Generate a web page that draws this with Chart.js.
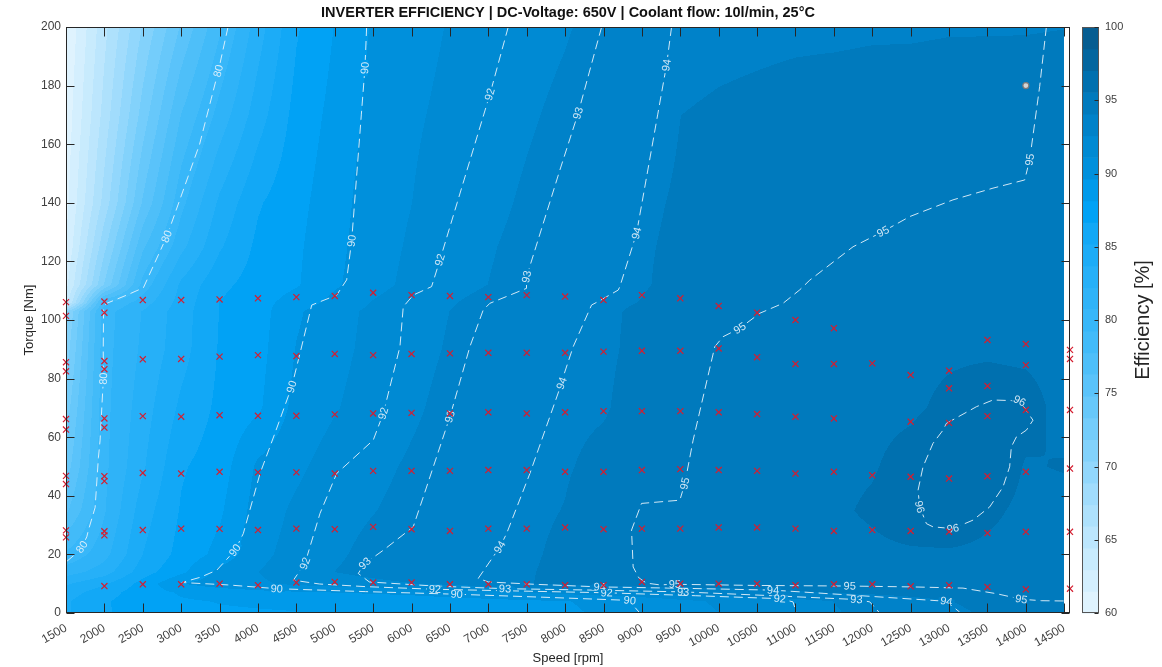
<!DOCTYPE html>
<html>
<head>
<meta charset="utf-8">
<title>Inverter efficiency map</title>
<script src="https://cdn.jsdelivr.net/npm/chart.js@4.4.1/dist/chart.umd.min.js"></script>
<style>
  html, body { margin: 0; padding: 0; background: #fff; }
  #wrap { position: relative; width: 1162px; height: 667px; }
  #main { position: absolute; left: 0; top: 0; }
  #cbar { position: absolute; left: 1062px; top: 0; }
</style>
</head>
<body>
<div id="wrap">
  <canvas id="main" width="1162" height="667"></canvas>
  <canvas id="cbar" width="100" height="667"></canvas>
</div>
<script>
// efficiency field [%] on the speed x torque grid (rows = torque)
const speedGrid = [1500, 2000, 2500, 3000, 3500, 4000, 4500, 5000, 5500, 6000, 6500, 7000, 7500,
  8000, 8500, 9000, 9500, 10000, 10500, 11000, 11500, 12000, 12500, 13000, 13500, 14000, 14500];
const torqueGrid = [0, 4, 7, 10, 14, 20, 35, 50, 70, 90, 103, 106, 112, 125, 140, 170, 200];
const effGrid = [
  [85, 86.5, 87.3, 87.8, 88.0, 88.05, 88.1, 88.3, 88.5, 88.7, 88.9, 89.1, 89.3, 89.5, 89.75, 90.05, 90.55, 91.1, 91.6, 92.1, 92.5, 92.9, 93.35, 93.85, 94.2, 94.5, 94.75],
  [85, 86.5, 87.5, 88.0, 88.2, 88.3, 88.4, 88.55, 88.7, 88.85, 89.0, 89.2, 89.4, 89.6, 89.8, 90.1, 90.75, 91.3, 91.8, 92.1, 92.6, 93.05, 93.55, 94.05, 94.35, 94.65, 94.95],
  [84.5, 86, 87.5, 88.3, 88.8, 89.2, 89.45, 89.65, 89.8, 90.0, 90.35, 90.7, 91.1, 91.45, 91.85, 92.3, 92.8, 93.2, 93.55, 93.9, 94.15, 94.35, 94.55, 94.8, 95.0, 95.1, 95.1],
  [83.5, 85, 87.2, 89.6, 90.4, 90.9, 91.4, 91.85, 92.2, 92.55, 92.9, 93.4, 94.0, 94.4, 94.7, 94.95, 94.95, 94.95, 94.95, 94.95, 94.95, 94.95, 94.95, 94.9, 94.85, 94.8, 94.8],
  [81.5, 83, 86, 87.8, 90.1, 91.1, 91.95, 92.6, 93.05, 93.35, 93.6, 93.8, 94.0, 94.3, 94.65, 95.0, 95.05, 95.1, 95.1, 95.1, 95.1, 95.15, 95.2, 95.2, 95.2, 95.1, 95.1],
  [79.5, 81.7, 85.2, 87.2, 88.6, 90.7, 91.7, 92.4, 92.95, 93.3, 93.55, 93.8, 93.95, 94.25, 94.75, 95.05, 95.15, 95.2, 95.25, 95.3, 95.35, 95.4, 95.45, 95.45, 95.4, 95.35, 95.3],
  [76, 80.6, 84.5, 86.8, 87.9, 90.3, 91.4, 92.15, 92.55, 92.95, 93.3, 93.6, 93.9, 94.1, 94.6, 95.0, 95.1, 95.2, 95.25, 95.3, 95.45, 95.65, 96.0, 96.2, 95.7, 95.4, 95.3],
  [74, 80.4, 83.5, 86.5, 87.4, 89.9, 90.8, 91.8, 92.3, 92.75, 93.15, 93.55, 93.85, 94.0, 94.3, 94.6, 94.95, 95.1, 95.2, 95.3, 95.4, 95.5, 95.8, 96.2, 96.1, 95.5, 95.6],
  [72.5, 80.3, 83, 85.5, 87.0, 87.9, 90.1, 91.0, 91.8, 92.4, 92.95, 93.35, 93.7, 93.9, 94.0, 94.4, 94.85, 95.1, 95.2, 95.3, 95.35, 95.4, 95.45, 95.7, 95.95, 95.85, 95.3],
  [71, 80.2, 82.5, 84.6, 86.8, 87.6, 89.7, 90.7, 91.5, 92.2, 92.7, 93.2, 93.55, 93.8, 93.95, 94.25, 94.75, 95.02, 95.15, 95.25, 95.3, 95.35, 95.4, 95.45, 95.45, 95.4, 95.3],
  [70, 80.1, 82.3, 84.5, 86.7, 87.5, 89.4, 90.6, 91.4, 92.1, 92.6, 93.1, 93.45, 93.75, 93.95, 94.2, 94.6, 94.8, 95.03, 95.15, 95.25, 95.3, 95.35, 95.4, 95.4, 95.4, 95.4],
  [63.5, 79, 81.5, 84.3, 86.7, 87.6, 88.8, 90.1, 91.2, 92.05, 92.5, 92.95, 93.35, 93.65, 93.9, 94.1, 94.5, 94.65, 94.85, 95.05, 95.15, 95.2, 95.25, 95.3, 95.35, 95.35, 95.35],
  [62.5, 72, 79.8, 84.0, 86.3, 87.3, 88.0, 89.4, 90.6, 91.5, 92.2, 92.6, 93.0, 93.4, 93.75, 94.0, 94.3, 94.5, 94.75, 94.95, 95.1, 95.2, 95.25, 95.3, 95.3, 95.3, 95.3],
  [61.5, 70, 77.5, 81.8, 85.0, 87.0, 87.9, 89.2, 90.5, 91.3, 92.1, 92.5, 92.9, 93.3, 93.7, 94.0, 94.2, 94.4, 94.55, 94.75, 94.9, 95.05, 95.1, 95.15, 95.2, 95.2, 95.25],
  [61, 68, 75, 80.3, 84.0, 86.5, 87.7, 89.0, 90.4, 91.1, 91.9, 92.3, 92.75, 93.15, 93.6, 93.95, 94.15, 94.35, 94.5, 94.6, 94.7, 94.8, 94.9, 95.0, 95.05, 95.1, 95.15],
  [60.5, 66.5, 72.5, 77.8, 81.3, 84.5, 87.2, 88.6, 90.1, 90.9, 91.45, 92.05, 92.45, 92.85, 93.3, 93.75, 94.07, 94.2, 94.3, 94.4, 94.5, 94.55, 94.6, 94.65, 94.7, 94.8, 94.9],
  [60, 65.5, 70.5, 75, 79, 83, 86.5, 88.2, 89.8, 90.6, 91.2, 91.7, 92.15, 92.5, 92.95, 93.4, 93.7, 93.8, 93.85, 93.9, 93.9, 93.95, 93.95, 94.0, 94.0, 94.0, 94.05]
];

// iso-efficiency lines [speed, torque]
const line80 = [[3610,200],[3484,185],[3240,160],[2812,128.5],[2508,111],[2300,108.6],[2031,105.7],[1990,104.3],[1985,90],[1987,80],[1966,70],[1944,59],[1922,53],[1879,36],[1792,28.3],[1771,26],[1706,22.5],[1600,19.6],[1500,17.4]];
const line90 = [[5415,200],[5393,186],[5346,170],[5258,140],[5220,127],[5155,113.7],[5025,108.5],[4700,105.1],[4547,88.6],[4439,77.2],[4230,62],[4027,47.6],[3809,27.1],[3701,21.4],[3463,14.6],[3250,12.2],[3008,10.4],[3600,9.6],[4244,8.3],[5400,7.3],[6587,6.4],[7700,5.4],[8842,4.3],[8900,2.2],[8973,0]];
const line92 = [[7259,200],[7020,177],[6939,170],[6594,140],[6370,120.5],[6261,111.4],[6022,108.5],[5892,104.5],[5849,90.9],[5632,68.1],[5501,59],[5025,47.6],[4808,34],[4612,16.9],[4461,11.2],[4800,9.9],[5400,9.0],[6305,8.1],[7400,7.5],[8540,6.9],[9700,5.9],[10795,4.9],[10968,3.8],[11013,0]];
const line93 = [[8475,200],[8170,170.6],[7932,151.2],[7620,125],[7498,114.8],[7497,110.8],[7020,105.7],[6933,103.4],[6760,90.9],[6500,67],[6196,43],[6022,29.4],[5631,21.4],[5393,16.9],[5306,13.5],[5450,10.6],[6300,9.2],[7217,8.3],[8400,7.8],[9537,7.2],[10700,5.9],[11794,4.6],[11967,3.8],[12097,0]];
const line94 = [[9386,200],[9321,187],[9205,170],[9001,140],[8930,129.6],[8713,111.4],[8691,110.2],[8430,106.3],[8344,105.1],[8105,90.9],[7975,80.6],[7954,78.4],[7541,47.6],[7238,27.1],[7150,22.5],[6868,11.8],[7000,10.6],[7600,9.8],[8452,8.9],[9600,8.4],[10708,7.8],[11850,5.9],[12965,4.0],[13138,0.3]];
const line95 = [[14267,200],[14180,179.7],[14050,154.7],[13985,147.8],[13572,145],[13051,141],[12488,135.3],[12140,130.2],[11750,125],[11186,113.6],[11056,110.3],[10838,105.7],[10535,102.3],[10275,97.2],[10057,94.3],[9949,90.9],[9667,59],[9559,44.2],[9494,38.5],[8995,37.4],[8865,28.3],[8886,15.7],[8960,12],[9060,10.2],[9233,9.6],[9429,9.8],[10500,9.4],[11707,9.2],[12531,8.9],[13181,8.5],[13616,6.6],[13942,4.7],[14200,4.2],[14500,4.1]];
const line96 = [[12965,64.7],[13356,70.4],[13572,72.7],[13919,72.4],[14093,65.8],[14007,62.4],[13877,60.1],[13811,56.7],[13789,49.9],[13702,43],[13529,36.2],[13312,31.7],[13051,28.8],[12791,29.4],[12705,30.5],[12618,36.2],[12596,41.9],[12661,49.9],[12791,57.9],[12921,62.4],[12965,64.7]];

// where each line carries its value label
const labels80 = [[3484,185],[2812,128.5],[1987,80],[1706,22.5]];
const labels90 = [[5393,186],[5220,127],[4439,77.2],[3701,21.4],[4244,8.3],[6587,6.4],[8842,4.3]];
const labels92 = [[7020,177],[6370,120.5],[5632,68.1],[4612,16.9],[6305,8.1],[8540,6.9],[10795,4.9]];
const labels93 = [[8170,170.6],[7498,114.8],[6500,67],[5393,16.9],[7217,8.3],[9537,7.2],[11794,4.6]];
const labels94 = [[9321,187],[8930,129.6],[7954,78.4],[7150,22.5],[8452,8.9],[10708,7.8],[12965,4.0]];
const labels95 = [[14050,154.7],[12140,130.2],[10275,97.2],[9559,44.2],[9429,9.8],[11707,9.2],[13942,4.7]];
const labels96 = [[13919,72.4],[13051,28.8],[12618,36.2]];

// measured operating points, one column per speed
const markerSpeeds = [1500, 2000, 2500, 3000, 3500, 4000, 4500, 5000, 5500, 6000, 6500, 7000, 7500,
  8000, 8500, 9000, 9500, 10000, 10500, 11000, 11500, 12000, 12500, 13000, 13500, 14000, 14575];
const markerTorques = [
  [106.1, 101.4, 85.6, 82.5, 66.2, 62.6, 46.8, 44.0, 28.2, 25.8],
  [106.3, 102.5, 86.0, 83.2, 66.4, 63.3, 46.7, 45.0, 27.9, 26.5, 9.2],
  [106.8, 86.6, 67.2, 47.8, 28.3, 9.8],
  [106.8, 86.7, 67.0, 47.6, 28.8, 9.8],
  [107.0, 87.5, 67.5, 48.2, 28.7, 10.0],
  [107.4, 88.0, 67.3, 48.0, 28.3, 9.5],
  [107.8, 87.7, 67.3, 48.0, 28.8, 10.4],
  [108.2, 88.4, 67.8, 47.6, 28.6, 10.6],
  [109.3, 88.0, 68.1, 48.5, 29.4, 10.4],
  [108.5, 88.4, 68.3, 48.5, 28.6, 10.4],
  [108.2, 88.6, 68.1, 48.5, 28.0, 9.8],
  [107.8, 88.8, 68.5, 48.8, 28.8, 9.8],
  [108.5, 88.8, 68.1, 48.8, 28.8, 9.8],
  [108.0, 88.8, 68.5, 48.2, 29.2, 9.5],
  [106.8, 89.2, 68.9, 48.2, 28.6, 9.5],
  [108.5, 89.5, 68.9, 48.8, 28.8, 10.6],
  [107.4, 89.5, 68.9, 49.1, 28.8, 10.0],
  [104.8, 90.3, 68.5, 48.8, 29.2, 10.0],
  [102.5, 87.3, 67.9, 48.5, 29.2, 10.0],
  [100.0, 85.0, 67.0, 47.6, 28.8, 9.5],
  [97.2, 85.0, 66.4, 48.2, 28.0, 9.8],
  [85.2, 47.0, 28.3, 9.8],
  [81.2, 65.3, 46.5, 28.0, 9.1],
  [82.7, 76.7, 64.9, 45.9, 27.7, 9.5],
  [93.2, 77.5, 67.2, 46.7, 27.3, 8.9],
  [91.8, 84.6, 69.3, 48.2, 27.7, 8.1],
  [89.8, 86.7, 69.3, 49.3, 27.7, 8.3]
];
const refPoint = [14000, 180];

const xTickValues = [1500, 2000, 2500, 3000, 3500, 4000, 4500, 5000, 5500, 6000, 6500, 7000, 7500,
  8000, 8500, 9000, 9500, 10000, 10500, 11000, 11500, 12000, 12500, 13000, 13500, 14000, 14500];
const yTickValues = [0, 20, 40, 60, 80, 100, 120, 140, 160, 180, 200];
const cbarTickValues = [60, 65, 70, 75, 80, 85, 90, 95, 100];

const TITLE = 'INVERTER EFFICIENCY | DC-Voltage: 650V | Coolant flow: 10l/min, 25°C';

// colormap, white -> cyan -> deep blue
const cmapStops = [60, 62, 65, 68, 70, 72, 75, 78, 80, 82, 84, 86, 87.5, 89, 90, 92, 94, 95, 96, 98, 100];
const cmapRGB = [[229,245,254],[214,240,254],[190,231,253],[162,221,252],[142,214,252],[122,207,251],
  [94,197,250],[70,188,249],[56,183,249],[44,178,248],[31,173,247],[17,168,246],[0,162,245],[0,153,233],
  [0,146,222],[0,137,210],[0,127,196],[0,121,188],[0,114,178],[3,101,157],[8,88,138]];
const CMIN = 60, CMAX = 100, BANDS = 27, BAND = (CMAX - CMIN) / BANDS;

const FONT = '"Liberation Sans", Arial, Helvetica, sans-serif';
const AXIS_COL = '#262626';
const LINE_COL = 'rgba(232,243,251,0.9)';
const X_MAX = 14575;

Chart.defaults.font.family = FONT;

function locate(arr, v) {
  let i = 0;
  while (i < arr.length - 2 && v > arr[i + 1]) i++;
  const f = (v - arr[i]) / (arr[i + 1] - arr[i]);
  return [i, Math.max(0, Math.min(1, f))];
}

function cmap(v) {
  const [i, f] = locate(cmapStops, v);
  return cmapRGB[i].map((c, k) => Math.round(c + (cmapRGB[i + 1][k] - c) * f));
}
const bandRGB = [];
for (let k = 0; k < BANDS; k++) bandRGB.push(cmap(CMIN + (k + 0.5) * BAND));

function bandColor(v) {
  const k = Math.max(0, Math.min(BANDS - 1, Math.floor((v - CMIN) / BAND)));
  return bandRGB[k];
}

function effAt(s, t) {
  const [i, f] = locate(speedGrid, s);
  const [j, g] = locate(torqueGrid, t);
  const r0 = effGrid[j], r1 = effGrid[j + 1];
  return (r0[i] * (1 - f) + r0[i + 1] * f) * (1 - g) + (r1[i] * (1 - f) + r1[i + 1] * f) * g;
}

// filled contour background
const fieldFill = {
  id: 'fieldFill',
  beforeDatasetsDraw(chart) {
    const { ctx, chartArea: a, scales: { x, y } } = chart;
    const w = Math.round(a.right - a.left), h = Math.round(a.bottom - a.top);
    if (!chart.$field || chart.$field.width !== w || chart.$field.height !== h) {
      const off = document.createElement('canvas');
      off.width = w; off.height = h;
      const octx = off.getContext('2d');
      const img = octx.createImageData(w, h);
      const sMax = speedGrid[speedGrid.length - 1];
      const cols = [];
      for (let px = 0; px < w; px++) {
        const s = x.getValueForPixel(a.left + px + 0.5);
        cols.push(s > sMax + 1 ? null : s);
      }
      for (let py = 0; py < h; py++) {
        const t = y.getValueForPixel(a.top + py + 0.5);
        for (let px = 0; px < w; px++) {
          if (cols[px] === null) continue;
          const c = bandColor(effAt(cols[px], t));
          const o = (py * w + px) * 4;
          img.data[o] = c[0]; img.data[o + 1] = c[1]; img.data[o + 2] = c[2]; img.data[o + 3] = 255;
        }
      }
      octx.putImageData(img, 0, 0);
      chart.$field = off;
    }
    ctx.drawImage(chart.$field, Math.round(a.left), Math.round(a.top));
  }
};

const contourSets = [
  { level: 80, line: line80, labels: labels80 },
  { level: 90, line: line90, labels: labels90 },
  { level: 92, line: line92, labels: labels92 },
  { level: 93, line: line93, labels: labels93 },
  { level: 94, line: line94, labels: labels94 },
  { level: 95, line: line95, labels: labels95 },
  { level: 96, line: line96, labels: labels96 }
];

function drawContourLabels(chart) {
  const { ctx, scales: { x, y } } = chart;
  ctx.save();
  ctx.font = '11px ' + FONT;
  ctx.textAlign = 'center';
  ctx.textBaseline = 'middle';
  contourSets.forEach(set => {
    const pts = set.line.map(p => [x.getPixelForValue(p[0]), y.getPixelForValue(p[1])]);
    set.labels.forEach(([s, t]) => {
      const px = x.getPixelForValue(s), py = y.getPixelForValue(t);
      let best = 0, bd = Infinity;
      pts.forEach((p, i) => {
        const d = (p[0] - px) ** 2 + (p[1] - py) ** 2;
        if (d < bd) { bd = d; best = i; }
      });
      const a = pts[Math.max(0, best - 1)], b = pts[Math.min(pts.length - 1, best + 1)];
      let ang = Math.atan2(b[1] - a[1], b[0] - a[0]);
      if (ang > Math.PI / 2) ang -= Math.PI;
      if (ang <= -Math.PI / 2) ang += Math.PI;
      const txt = String(set.level);
      const tw = ctx.measureText(txt).width;
      ctx.save();
      ctx.translate(px, py);
      ctx.rotate(ang);
      ctx.fillStyle = 'rgb(' + bandColor(effAt(Math.min(s, 14500), t)).join(',') + ')';
      ctx.fillRect(-tw / 2 - 2, -3, tw + 4, 6);
      ctx.fillStyle = LINE_COL;
      ctx.fillText(txt, 0, 0.5);
      ctx.restore();
    });
  });
  ctx.restore();
}

const labelHook = {
  id: 'labelHook',
  beforeDatasetDraw(chart, args) {
    if (chart.data.datasets[args.index].isMarkers) drawContourLabels(chart);
  }
};

// MATLAB-like box with inward ticks on all four sides, title centred over the plot
const axesBox = {
  id: 'axesBox',
  afterDraw(chart) {
    const { ctx, chartArea: a, scales: { x, y } } = chart;
    const L = Math.round(a.left) + 0.5, R = Math.round(a.right) - 0.5;
    const T = Math.round(a.top) + 0.5, B = Math.round(a.bottom) - 0.5;
    ctx.save();
    ctx.strokeStyle = AXIS_COL;
    ctx.lineWidth = 1;
    ctx.strokeRect(L, T, R - L, B - T);
    ctx.beginPath();
    xTickValues.forEach(v => {
      const px = Math.round(x.getPixelForValue(v)) + 0.5;
      ctx.moveTo(px, B); ctx.lineTo(px, B - 9);
      ctx.moveTo(px, T); ctx.lineTo(px, T + 9);
    });
    yTickValues.forEach(v => {
      const py = Math.round(y.getPixelForValue(v)) + 0.5;
      ctx.moveTo(L, py); ctx.lineTo(L + 8, py);
      ctx.moveTo(R, py); ctx.lineTo(R - 8, py);
    });
    ctx.stroke();

    ctx.fillStyle = '#111';
    ctx.font = 'bold 14.5px ' + FONT;
    ctx.textAlign = 'center';
    ctx.textBaseline = 'middle';
    ctx.fillText(TITLE, (a.left + a.right) / 2, 13);
    ctx.restore();
  }
};

const markerPts = [];
markerSpeeds.forEach((s, i) => markerTorques[i].forEach(t => markerPts.push({ x: s, y: t })));

const datasets = [
  {
    isMarkers: true, data: markerPts, order: 0, clip: false,
    pointStyle: 'crossRot', pointRadius: 4.3, pointHoverRadius: 4.3,
    pointBorderColor: 'rgb(212,30,48)', pointBackgroundColor: 'rgb(212,30,48)', pointBorderWidth: 1.2
  },
  {
    data: [{ x: refPoint[0], y: refPoint[1] }], order: 1,
    pointStyle: 'circle', pointRadius: 3, pointBorderWidth: 1.2,
    pointBackgroundColor: '#d4d4d4', pointBorderColor: '#7a7a7a'
  }
];
contourSets.forEach(set => datasets.push({
  data: set.line.map(p => ({ x: p[0], y: p[1] })),
  showLine: true, pointRadius: 0, pointHoverRadius: 0, tension: 0, fill: false,
  borderColor: LINE_COL, borderWidth: 1, borderDash: [9, 5], order: 2
}));

new Chart(document.getElementById('main'), {
  type: 'scatter',
  data: { datasets },
  options: {
    responsive: false,
    animation: false,
    devicePixelRatio: 1,
    events: [],
    layout: { padding: { left: 0, right: 92, top: 27, bottom: 0 } },
    plugins: {
      legend: { display: false },
      tooltip: { enabled: false },
      title: { display: false }
    },
    scales: {
      x: {
        type: 'linear', min: 1500, max: X_MAX,
        afterBuildTicks: s => { s.ticks = xTickValues.map(v => ({ value: v })); },
        afterFit: s => { s.height = 54; },
        grid: { display: false, drawTicks: false },
        border: { display: false },
        ticks: {
          autoSkip: false, minRotation: 30, maxRotation: 30, padding: 8,
          color: '#404040', font: { size: 12 },
          callback: v => String(v)
        },
        title: { display: true, text: 'Speed [rpm]', color: AXIS_COL, font: { size: 13 }, padding: { top: 0, bottom: 1 } }
      },
      y: {
        min: 0, max: 200,
        afterBuildTicks: s => { s.ticks = yTickValues.map(v => ({ value: v })); },
        afterFit: s => { s.width = 66; },
        grid: { display: false, drawTicks: false },
        border: { display: false },
        ticks: { padding: 5, color: '#404040', font: { size: 12 }, callback: v => String(v) },
        title: { display: true, text: 'Torque [Nm]', color: AXIS_COL, font: { size: 13 }, padding: { top: 22, bottom: 0 } }
      }
    }
  },
  plugins: [fieldFill, labelHook, axesBox]
});

// colour bar
const cbarDraw = {
  id: 'cbarDraw',
  beforeDatasetsDraw(chart) {
    const { ctx, chartArea: a, scales: { y } } = chart;
    for (let k = 0; k < BANDS; k++) {
      const y0 = y.getPixelForValue(CMIN + k * BAND), y1 = y.getPixelForValue(CMIN + (k + 1) * BAND);
      ctx.fillStyle = 'rgb(' + bandRGB[k].join(',') + ')';
      ctx.fillRect(a.left, y1, a.right - a.left, y0 - y1 + 0.6);
    }
  },
  afterDraw(chart) {
    const { ctx, chartArea: a, scales: { y } } = chart;
    const L = Math.round(a.left) + 0.5, R = Math.round(a.right) - 0.5;
    const T = Math.round(a.top) + 0.5, B = Math.round(a.bottom) - 0.5;
    ctx.save();
    ctx.strokeStyle = '#555';
    ctx.lineWidth = 1;
    ctx.strokeRect(L, T, R - L, B - T);
    ctx.strokeStyle = AXIS_COL;
    ctx.beginPath();
    cbarTickValues.forEach(v => {
      const py = Math.round(y.getPixelForValue(v)) + 0.5;
      ctx.moveTo(R, py); ctx.lineTo(R - 4, py);
    });
    ctx.stroke();
    ctx.translate(81, (a.top + a.bottom) / 2);
    ctx.rotate(-Math.PI / 2);
    ctx.fillStyle = AXIS_COL;
    ctx.font = '20px ' + FONT;
    ctx.textAlign = 'center';
    ctx.textBaseline = 'middle';
    ctx.fillText('Efficiency [%]', 0, 0);
    ctx.restore();
  }
};

new Chart(document.getElementById('cbar'), {
  type: 'scatter',
  data: { datasets: [] },
  options: {
    responsive: false,
    animation: false,
    devicePixelRatio: 1,
    events: [],
    layout: { padding: { left: 20, right: 0, top: 27, bottom: 54 } },
    plugins: { legend: { display: false }, tooltip: { enabled: false } },
    scales: {
      x: { display: false, min: 0, max: 1 },
      y: {
        position: 'right', min: CMIN, max: CMAX,
        afterBuildTicks: s => { s.ticks = cbarTickValues.map(v => ({ value: v })); },
        afterFit: s => { s.width = 63; },
        grid: { display: false, drawTicks: false },
        border: { display: false },
        ticks: { padding: 6, color: '#404040', font: { size: 11 }, callback: v => String(v) }
      }
    }
  },
  plugins: [cbarDraw]
});
</script>
</body>
</html>
